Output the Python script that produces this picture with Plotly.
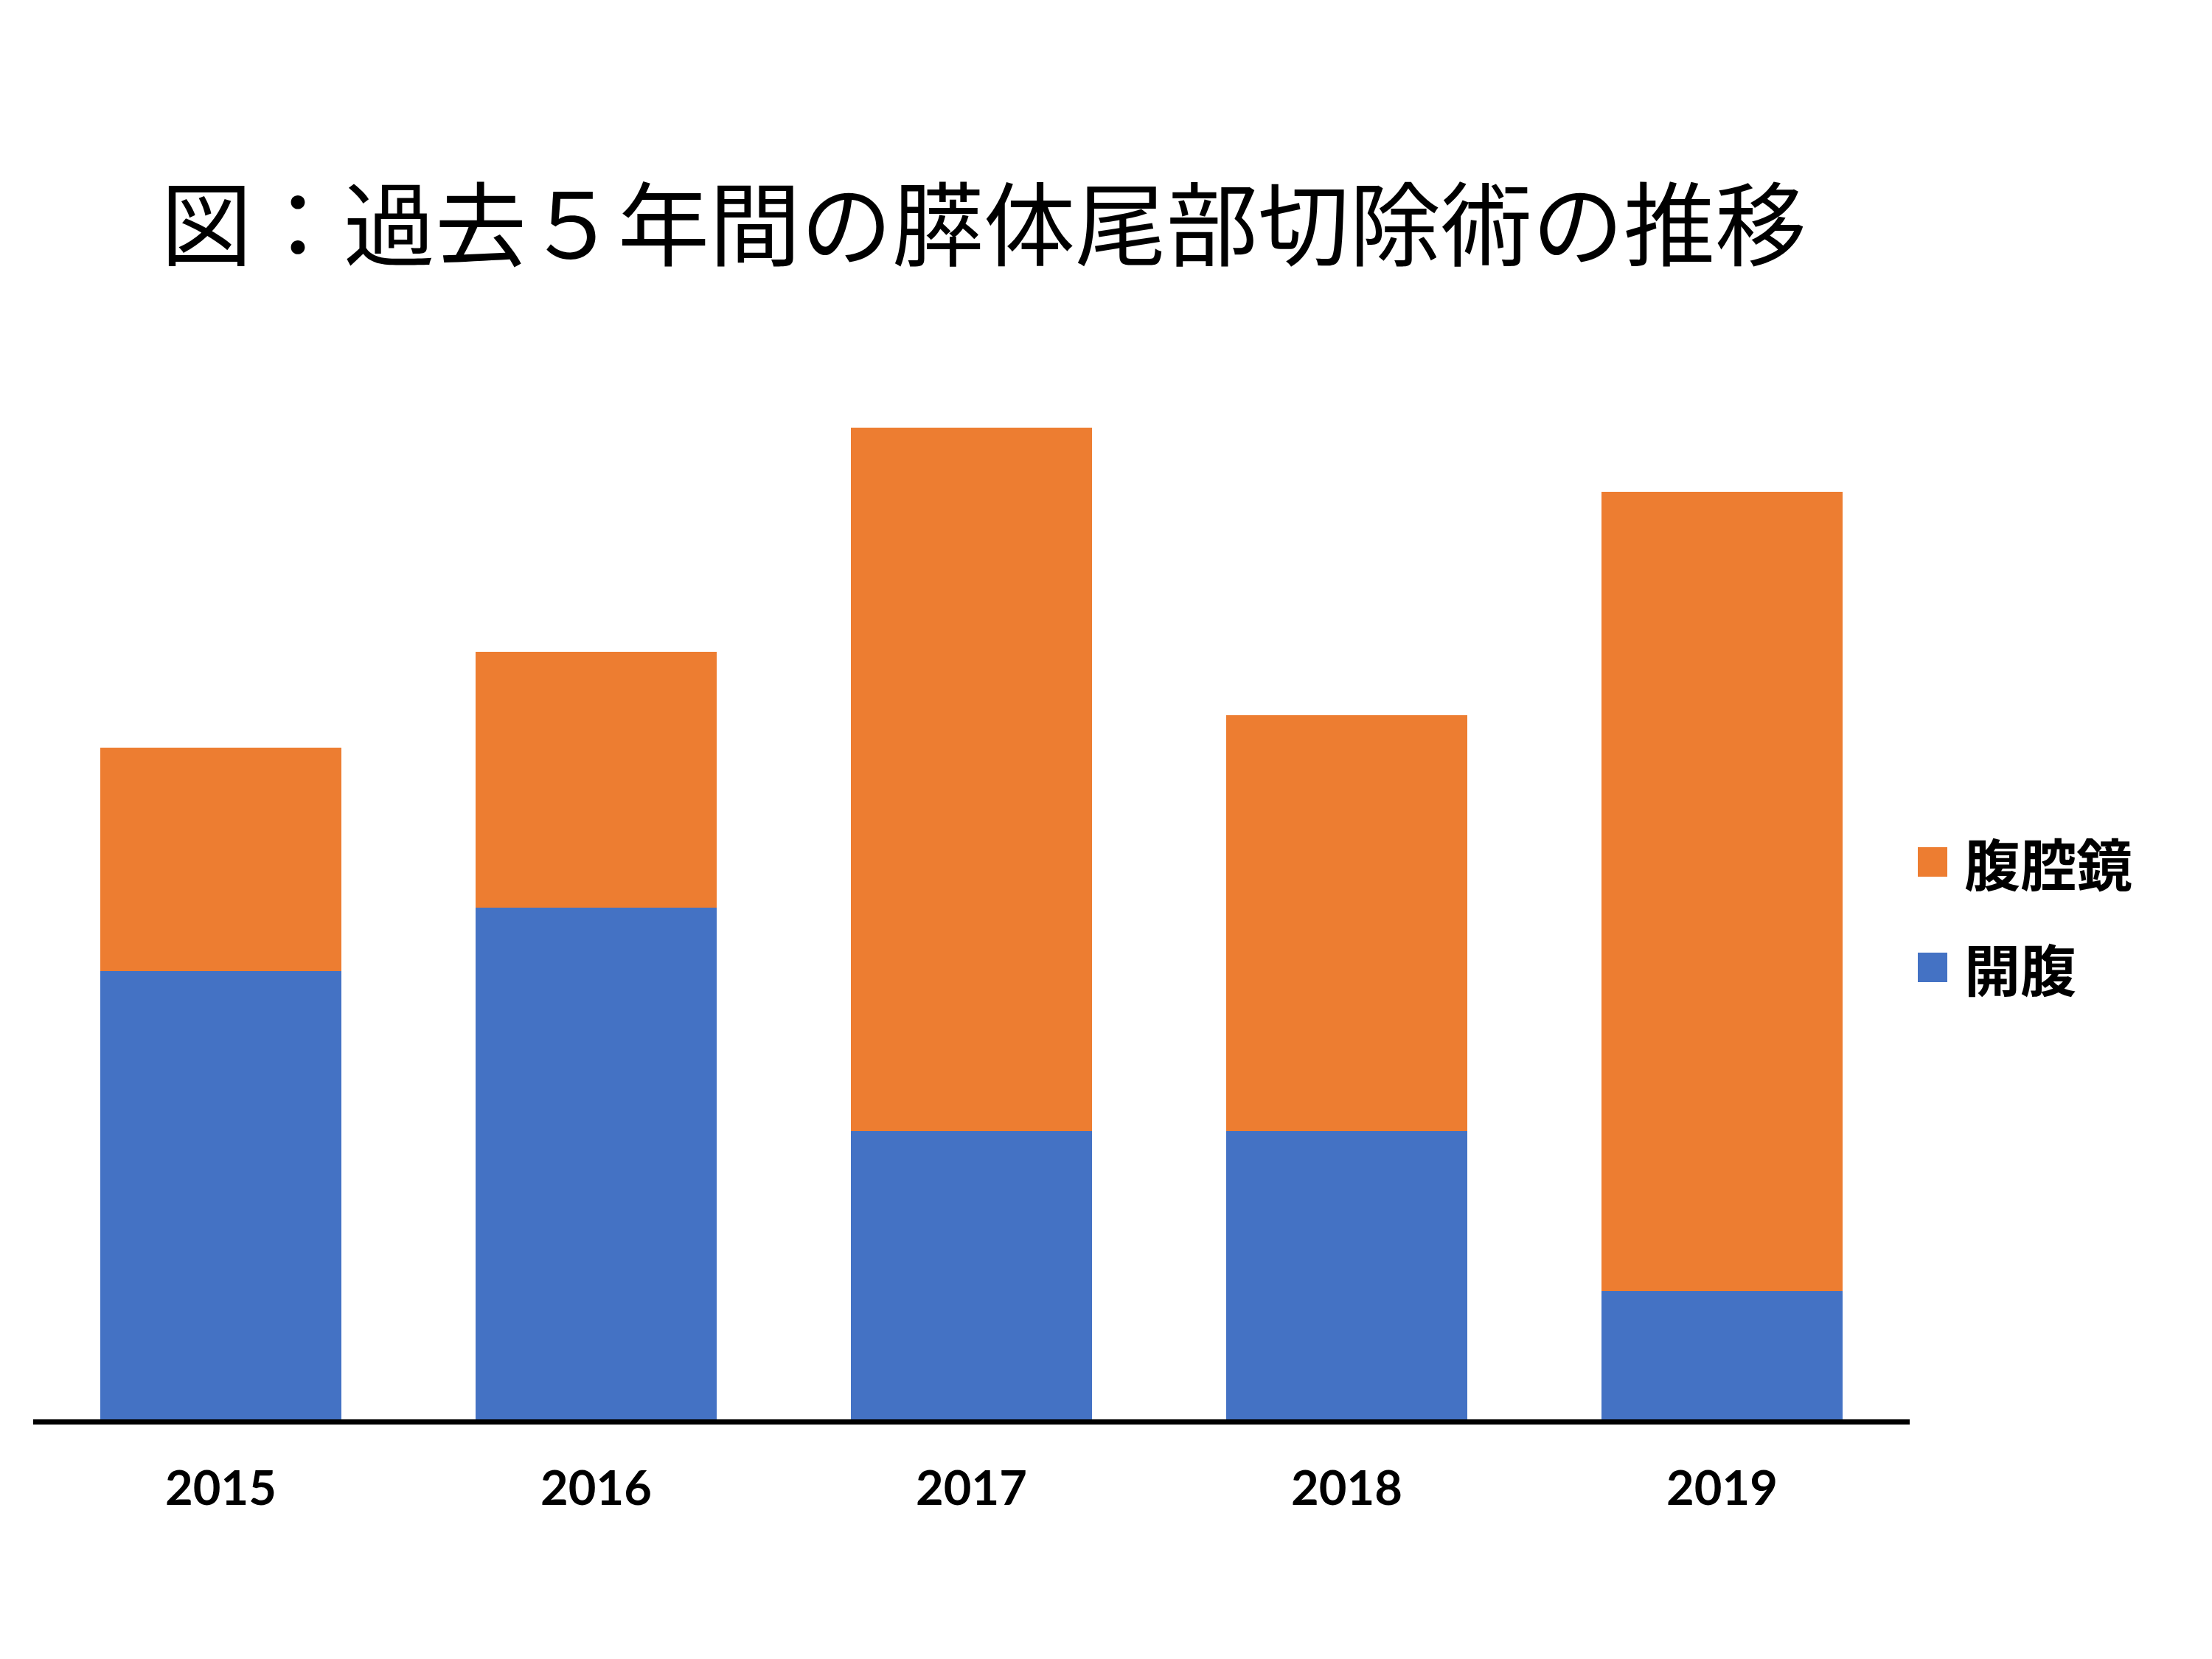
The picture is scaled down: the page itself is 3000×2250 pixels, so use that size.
import plotly.graph_objects as go

years = ["2015", "2016", "2017", "2018", "2019"]
open_surgery = [14, 16, 9, 9, 4]        # 開腹
laparoscopic = [7, 8, 22, 13, 25]       # 腹腔鏡
series_names = ["開腹", "腹腔鏡"]
title_text = "図：過去５年間の膵体尾部切除術の推移"

BLUE = "#4472C4"
ORANGE = "#ED7D31"

fig = go.Figure()
fig.add_trace(go.Bar(x=years, y=open_surgery, name=series_names[0],
                     marker=dict(color=BLUE, line=dict(width=0)), showlegend=False))
fig.add_trace(go.Bar(x=years, y=laparoscopic, name=series_names[1],
                     marker=dict(color=ORANGE, line=dict(width=0)), showlegend=False))

W, H = 3000, 2250
ml, mr, mt, mb = 37, 418, 485, 333

fig.update_layout(
    width=W, height=H,
    barmode="stack",
    bargap=0.357,
    plot_bgcolor="white", paper_bgcolor="white",
    margin=dict(l=ml, r=mr, t=mt, b=mb, pad=0),
    title=dict(text=title_text, x=1326 / W, xanchor="center", xref="container",
               y=1 - 300 / H, yanchor="middle", yref="container",
               font=dict(family="Noto Sans CJK JP", size=124, color="black")),
    xaxis=dict(showline=True, linecolor="black", linewidth=7, ticks="",
               tickfont=dict(family="Lato", size=65, color="black", weight=700),
               ticklabelstandoff=31, showgrid=False, zeroline=False),
    yaxis=dict(range=[0, 33], visible=False, showgrid=False, zeroline=False),
)

# Custom legend (large squares as in the reference)
legend_items = [(series_names[1], ORANGE, 1161), (series_names[0], BLUE, 1304)]
pw, ph = W - ml - mr, H - mt - mb
for name, color, yc in legend_items:
    fig.add_shape(type="rect", xref="paper", yref="paper",
                  x0=(2593 - ml) / pw, x1=(2633 - ml) / pw,
                  y0=(H - mb - (yc + 20)) / ph, y1=(H - mb - (yc - 20)) / ph,
                  fillcolor=color, line=dict(width=0))
    fig.add_annotation(text=name, xref="paper", yref="paper",
                       x=(2654 - ml) / pw, y=(H - mb - yc) / ph,
                       xanchor="left", yanchor="middle", showarrow=False,
                       font=dict(family="Noto Sans CJK JP", size=76, color="black", weight=700))

fig.write_html("out.html")
